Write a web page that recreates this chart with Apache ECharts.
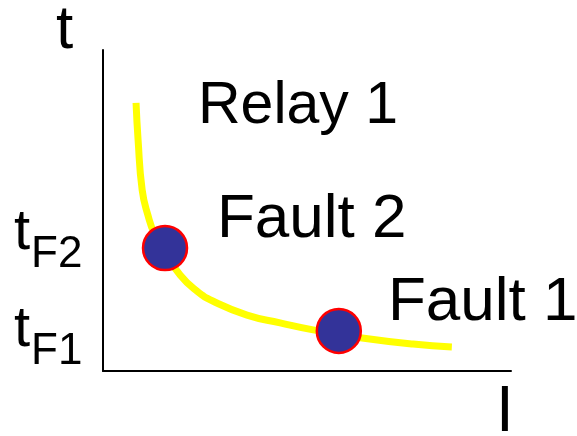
<!DOCTYPE html>
<html lang="en">
<head>
<meta charset="UTF-8">
<title>Relay 1</title>
<script src="https://cdn.jsdelivr.net/npm/echarts@6/dist/echarts.min.js"></script>
<style>
  body{margin:0;padding:0;background:#fff;}
  #main{width:577px;height:436px;}
</style>
</head>
<body>
<div id="main"></div>
<script>
// curve (I in 0..100, t in 0..100)
var curveI = [8.1, 8.6, 9.6, 11.0, 12.7, 15.2, 18.9, 23.0, 26.9, 35.3, 43.4, 51.5, 63.5, 76.0, 85.5];
var curveT = [83.5, 72.0, 56.4, 48.6, 42.4, 37.1, 29.9, 24.9, 21.8, 17.4, 15.0, 12.8, 10.3, 8.4, 7.5];
var faultNames = ['Fault 2', 'Fault 1'];
var faultI = [15.2, 57.8];
var faultT = [38.3, 12.5];

var font = '"Liberation Sans", Arial, sans-serif';
var myChart = echarts.init(document.getElementById('main'));

// text centred vertically on y
function txt(str, x, y, size) {
    return {
        type: 'text', x: x, y: y, z: 10,
        style: { text: str, font: size + 'px ' + font, fill: '#000', verticalAlign: 'middle', align: 'left' }
    };
}

var option = {
    animation: false,
    grid: { left: 103, top: 50, right: 66, bottom: 65 },
    xAxis: {
        type: 'value', min: 0, max: 100,
        axisLine: { lineStyle: { color: '#000', width: 2 } },
        axisTick: { show: false }, axisLabel: { show: false }, splitLine: { show: false }
    },
    yAxis: {
        type: 'value', min: 0, max: 100,
        axisLine: { show: true, lineStyle: { color: '#000', width: 2 } },
        axisTick: { show: false }, axisLabel: { show: false }, splitLine: { show: false }
    },
    series: [{
        name: 'Relay 1',
        type: 'line',
        smooth: 0.5,
        symbol: 'none',
        z: 2,
        lineStyle: { color: '#ffff00', width: 7 },
        data: curveI.map(function (v, i) { return [v, curveT[i]]; })
    }, {
        type: 'scatter',
        symbolSize: 44,
        z: 5,
        itemStyle: { color: '#333399', borderColor: '#ff0000', borderWidth: 2.5, opacity: 1 },
        data: faultI.map(function (v, i) { return { name: faultNames[i], value: [v, faultT[i]] }; })
    }],
    graphic: [
        txt('t', 56, 31, 62),
        txt('I', 496, 413, 64),
        txt('Relay 1', 198, 107, 59),
        txt(faultNames[0], 217, 220, 62),
        txt(faultNames[1], 388, 303, 62),
        txt('t', 14, 233, 58),
        txt('F2', 31, 255, 44),
        txt('t', 14, 330, 58),
        txt('F1', 31, 352, 44)
    ]
};
myChart.setOption(option);
</script>
</body>
</html>
